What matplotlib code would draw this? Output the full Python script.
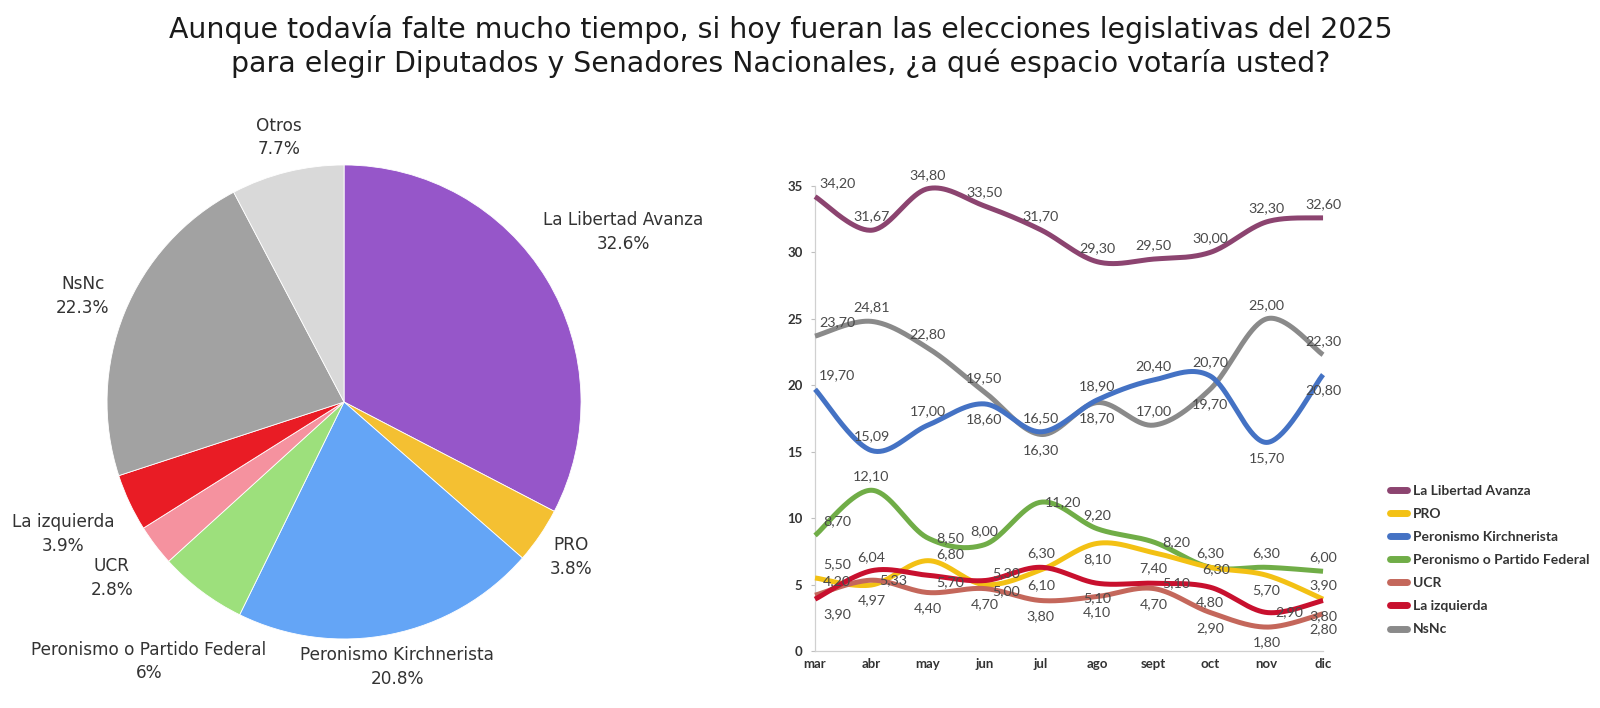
import numpy as np
import matplotlib
matplotlib.use("Agg")
import matplotlib.pyplot as plt
from matplotlib.lines import Line2D

# ---------------- data ----------------
pie_labels = ["La Libertad Avanza", "PRO", "Peronismo Kirchnerista",
              "Peronismo o Partido Federal", "UCR", "La izquierda", "NsNc", "Otros"]
pie_values = [32.6, 3.8, 20.8, 6, 2.8, 3.9, 22.3, 7.7]
pie_pct_text = ["32.6%", "3.8%", "20.8%", "6%", "2.8%", "3.9%", "22.3%", "7.7%"]

months = ["mar", "abr", "may", "jun", "jul", "ago", "sept", "oct", "nov", "dic"]
lla = [34.20, 31.67, 34.80, 33.50, 31.70, 29.30, 29.50, 30.00, 32.30, 32.60]
pro = [5.50, 4.97, 6.80, 5.00, 6.10, 8.10, 7.40, 6.30, 5.70, 3.90]
pk = [19.70, 15.09, 17.00, 18.60, 16.50, 18.90, 20.40, 20.70, 15.70, 20.80]
pf = [8.70, 12.10, 8.50, 8.00, 11.20, 9.20, 8.20, 6.30, 6.30, 6.00]
ucr = [4.20, 5.33, 4.40, 4.70, 3.80, 4.10, 4.70, 2.90, 1.80, 2.80]
izq = [3.90, 6.04, 5.70, 5.30, 6.30, 5.10, 5.10, 4.80, 2.90, 3.80]
nsnc = [23.70, 24.81, 22.80, 19.50, 16.30, 18.70, 17.00, 19.70, 25.00, 22.30]
series_names = ["La Libertad Avanza", "PRO", "Peronismo Kirchnerista",
                "Peronismo o Partido Federal", "UCR", "La izquierda", "NsNc"]
yticks = [0, 5, 10, 15, 20, 25, 30, 35]

# ---------------- styles ----------------
pie_colors = ["#9656c9", "#f4c032", "#64a5f6", "#9de07c", "#f5929f", "#e91c25", "#a2a2a2", "#d9d9d9"]
pie_label_dist = [1.38, 1.16, 1.14, 1.37, 1.23, 1.31, 1.19, 1.15]
line_colors = ["#8c4470", "#f3c114", "#4472c4", "#70ad47", "#c4675b", "#c8102e", "#8a8a8a"]
label_pos = [
    list("aaaaaaaaaa"),
    list("abRSbbbcba"),
    list("aaabaaaabb"),
    list("aarararaaa"),
    list("arbbbbbbbb"),
    list("baSRabrbrb"),
    list("aaaabbabaa"),
]
offsets = {"a": (0, 10), "b": (0, -11), "c": (4, -1), "r": (16, 0),
           "R": (16, 5), "S": (16, -5)}

plt.rcParams["font.family"] = ["DejaVu Sans"]
fig = plt.figure(figsize=(16, 7.08), dpi=100)
fig.patch.set_facecolor("white")

# ---------------- title ----------------
fig.text(0.488, 0.959,
         "Aunque todavía falte mucho tiempo, si hoy fueran las elecciones legislativas del 2025",
         ha="center", va="center", fontsize=20.4, color="#1a1a1a")
fig.text(0.488, 0.911,
         "para elegir Diputados y Senadores Nacionales, ¿a qué espacio votaría usted?",
         ha="center", va="center", fontsize=20.4, color="#1a1a1a")

# ---------------- pie ----------------
axp = fig.add_axes([0.0669, 0.0975, 0.29625, 0.6695])
wedges, _ = axp.pie(pie_values, colors=pie_colors, startangle=90, counterclock=False,
                    radius=1, wedgeprops=dict(linewidth=0.6, edgecolor="white"))
axp.set_xlim(-1, 1)
axp.set_ylim(-1, 1)
axp.set_aspect("equal")
axp.axis("off")
for w, name, pct, d in zip(wedges, pie_labels, pie_pct_text, pie_label_dist):
    ang = np.deg2rad((w.theta1 + w.theta2) / 2)
    axp.text(d * np.cos(ang), d * np.sin(ang), f"{name}\n{pct}", ha="center", va="center",
             fontsize=12.2, color="#333333", linespacing=1.4, clip_on=False)

# ---------------- line chart ----------------
def smooth(y, n=40):
    x = np.arange(len(y), dtype=float)
    p = np.column_stack([x, np.asarray(y, dtype=float)])
    out = []
    for i in range(len(p) - 1):
        p0 = p[i - 1] if i > 0 else p[i]
        p1, p2 = p[i], p[i + 1]
        p3 = p[i + 2] if i + 2 < len(p) else p[i + 1]
        c1 = p1 + (p2 - p0) / 6
        c2 = p2 - (p3 - p1) / 6
        t = np.linspace(0, 1, n)[:, None]
        seg = ((1 - t) ** 3) * p1 + 3 * ((1 - t) ** 2) * t * c1 + 3 * (1 - t) * t ** 2 * c2 + t ** 3 * p2
        out.append(seg if i == 0 else seg[1:])
    s = np.vstack(out)
    return s[:, 0], s[:, 1]

axl = fig.add_axes([0.5094, 0.0805, 0.3175, 0.6568])
all_series = [lla, pro, pk, pf, ucr, izq, nsnc]
draw_order = [0, 6, 2, 3, 1, 4, 5]
for k in draw_order:
    sx, sy = smooth(all_series[k])
    axl.plot(sx, sy, color=line_colors[k], lw=3.6, solid_capstyle="butt", clip_on=False, zorder=3)
for k, ys in enumerate(all_series):
    for i, v in enumerate(ys):
        dx, dy = offsets[label_pos[k][i]]
        if i == 0:
            dx += 16
        axl.annotate(f"{v:.2f}".replace(".", ","), (i, v), xytext=(dx, dy),
                     textcoords="offset points", ha="center", va="center",
                     fontsize=10.3, color="#4a4a4a", family=["Lato", "DejaVu Sans"], zorder=5)

axl.set_xlim(0, len(months) - 1)
axl.set_ylim(0, 35)
axl.set_xticks(range(len(months)))
axl.set_xticklabels(months)
axl.set_yticks(yticks)
for lab in axl.get_xticklabels() + axl.get_yticklabels():
    lab.set_fontweight("bold")
    lab.set_fontsize(9.5)
    lab.set_color("#333333")
    lab.set_family(["Lato", "DejaVu Sans"])
axl.tick_params(axis="x", length=0, pad=5)
axl.tick_params(axis="y", length=3, width=0.8, color="#bfbfbf", pad=6)
for s in ["top", "right"]:
    axl.spines[s].set_visible(False)
for s in ["left", "bottom"]:
    axl.spines[s].set_color("#d0d0d0")
    axl.spines[s].set_linewidth(0.9)

handles = [Line2D([0], [0], color=c, lw=5, solid_capstyle="round") for c in line_colors]
leg = fig.legend(handles, series_names, loc="upper left", bbox_to_anchor=(0.861, 0.333),
                 frameon=False, handlelength=1.2, handletextpad=0.45, labelspacing=0.8,
                 prop=dict(family=["Lato", "DejaVu Sans"], weight="bold", size=10))
for t in leg.get_texts():
    t.set_color("#333333")

fig.savefig("out.png", dpi=100, facecolor="white")
